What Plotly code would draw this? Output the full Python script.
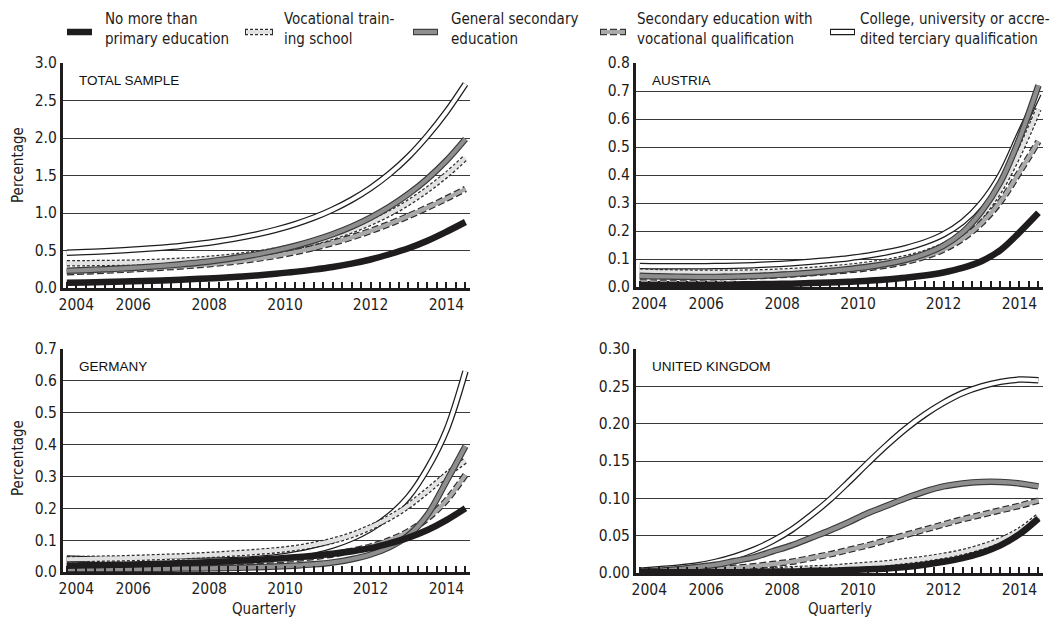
import plotly.graph_objects as go

# ---------------------------------------------------------------------------
# Data: share (%) by education level, half-yearly points 2004-2014
# ---------------------------------------------------------------------------
years = [2004.0, 2004.5, 2005.0, 2005.5, 2006.0, 2006.5, 2007.0, 2007.5,
         2008.0, 2008.5, 2009.0, 2009.5, 2010.0, 2010.5, 2011.0, 2011.5,
         2012.0, 2012.5, 2013.0, 2013.5, 2014.0, 2014.5]

legend_labels = [
    "No more than<br>primary education",
    "Vocational train-<br>ing school",
    "General secondary<br>education",
    "Secondary education with<br>vocational qualification",
    "College, university or accre-<br>dited terciary qualification",
]

panel_titles = ["TOTAL SAMPLE", "AUSTRIA", "GERMANY", "UNITED KINGDOM"]

# Total sample
total_primary = [.070, .075, .080, .086, .093, .101, .111, .122, .135, .150, .168,
                 .190, .215, .245, .280, .325, .380, .450, .530, .630, .750, .880]
total_voc     = [.330, .331, .333, .336, .342, .351, .363, .379, .400, .427, .459,
                 .500, .550, .610, .682, .768, .871, .993, 1.139, 1.312, 1.509, 1.737]
total_general = [.230, .239, .250, .262, .277, .295, .316, .341, .371, .407, .449,
                 .500, .560, .632, .717, .818, .939, 1.083, 1.254, 1.457, 1.699, 1.987]
total_secvoc  = [.210, .220, .231, .243, .256, .271, .288, .307, .329, .356, .389,
                 .429, .477, .534, .600, .675, .760, .855, .960, 1.073, 1.193, 1.320]
total_college = [.470, .479, .490, .503, .519, .538, .561, .589, .624, .665, .715,
                 .776, .849, .937, 1.045, 1.175, 1.332, 1.522, 1.752, 2.030, 2.350, 2.720]

# Austria
at_primary = [.008, .008, .008, .008, .008, .009, .010, .011, .012, .014, .016,
              .019, .022, .027, .033, .041, .052, .068, .092, .132, .195, .265]
at_voc     = [.055, .053, .052, .051, .051, .051, .052, .054, .057, .061, .066,
              .072, .080, .090, .103, .121, .148, .188, .255, .350, .480, .635]
at_general = [.040, .038, .037, .036, .036, .037, .039, .042, .046, .051, .057,
              .064, .072, .083, .097, .118, .148, .195, .270, .375, .530, .720]
at_secvoc  = [.035, .034, .034, .034, .035, .036, .038, .041, .045, .049, .054,
              .060, .067, .077, .090, .108, .134, .172, .228, .305, .410, .520]
at_college = [.075, .074, .074, .074, .075, .076, .078, .081, .085, .090, .096,
              .103, .112, .124, .139, .159, .188, .232, .300, .400, .545, .690]

# Germany
de_primary = [.020, .021, .022, .023, .024, .026, .028, .030, .032, .035, .038,
              .042, .046, .051, .057, .065, .075, .090, .108, .132, .163, .200]
de_voc     = [.040, .041, .042, .043, .045, .047, .049, .052, .055, .059, .063,
              .068, .075, .085, .098, .116, .140, .170, .208, .255, .305, .350]
de_general = [.010, .010, .010, .010, .010, .010, .011, .011, .012, .013, .015,
              .017, .020, .024, .030, .040, .055, .078, .115, .180, .285, .395]
de_secvoc  = [.020, .020, .020, .021, .022, .023, .024, .026, .028, .031, .034,
              .037, .041, .047, .055, .066, .080, .100, .128, .168, .225, .305]
de_college = [.042, .040, .038, .037, .036, .035, .035, .035, .036, .038, .041,
              .046, .055, .067, .083, .105, .135, .177, .236, .325, .445, .630]

# United Kingdom
uk_primary = [.001, .001, .001, .001, .001, .001, .0015, .002, .002, .003, .003,
              .004, .005, .006, .008, .011, .015, .020, .027, .037, .052, .073]
uk_voc     = [.001, .001, .001, .002, .002, .003, .003, .004, .005, .006, .007,
              .009, .011, .013, .016, .019, .023, .028, .035, .044, .057, .076]
uk_general = [.002, .003, .005, .008, .011, .016, .021, .029, .037, .047, .057,
              .068, .080, .090, .100, .109, .116, .120, .122, .122, .120, .116]
uk_secvoc  = [.001, .002, .003, .004, .005, .007, .009, .012, .015, .020, .025,
              .031, .037, .044, .051, .058, .065, .072, .078, .084, .090, .097]
uk_college = [.003, .005, .007, .010, .015, .022, .031, .043, .058, .077, .098,
              .122, .147, .171, .193, .212, .228, .241, .250, .256, .259, .258]

year_labels = ["2004", "2006", "2008", "2010", "2012", "2014"]

# ---------------------------------------------------------------------------
# Styling
# ---------------------------------------------------------------------------
W, H = 1050, 620
INK = "#1e1c1c"
FONT = "Liberation Sans Narrow, DejaVu Sans Condensed, Arial Narrow, sans-serif"
TITLE_FONT = "Liberation Sans, Arial, sans-serif"
TICK_SIZE = 15.5
TEXT_SIZE = 15

# cased line: outer (case) stroke + inner (fill) stroke
STYLES = {
    "primary": dict(case=INK, fill=INK, dash="solid", cw=6.5, fw=6.5),
    "voc": dict(case="#2e2e2e", fill="#e2e2e2", dash="3px,2px", cw=6.5, fw=4.0),
    "general": dict(case="#3a3a3a", fill="#8e8e8e", dash="solid", cw=6.5, fw=4.2),
    "secvoc": dict(case="#2e2e2e", fill="#a9a9a9", dash="7px,3px", cw=6.5, fw=4.2),
    "college": dict(case=INK, fill="#ffffff", dash="solid", cw=6.5, fw=4.0),
}
LEGEND_ORDER = ["primary", "voc", "general", "secvoc", "college"]
DRAW_ORDER = ["college", "voc", "secvoc", "general", "primary"]

# quarterly tick comb; year labels sit on the quarter nearest their printed spot
X_RANGE = [2003.9, 2014.62]
quarters = [2004 + 0.25 * k for k in range(43)]
label_at = dict(zip([2004.25, 2005.75, 2007.75, 2009.75, 2012.0, 2014.0], year_labels))
quarter_text = [label_at.get(q, "") for q in quarters]


def px_x(p):
    return p / W


def px_y(p):
    return 1 - p / H


panels = [
    dict(title=panel_titles[0], xa="x", ya="y",
         data=dict(primary=total_primary, voc=total_voc, general=total_general,
                   secvoc=total_secvoc, college=total_college),
         ymax=3.0, dtick=0.5, fmt=".1f", xpx=(63, 470), ypx=(63, 288)),
    dict(title=panel_titles[1], xa="x2", ya="y2",
         data=dict(primary=at_primary, voc=at_voc, general=at_general,
                   secvoc=at_secvoc, college=at_college),
         ymax=0.8, dtick=0.1, fmt=".1f", xpx=(636, 1043), ypx=(63, 287)),
    dict(title=panel_titles[2], xa="x3", ya="y3",
         data=dict(primary=de_primary, voc=de_voc, general=de_general,
                   secvoc=de_secvoc, college=de_college),
         ymax=0.7, dtick=0.1, fmt=".1f", xpx=(63, 470), ypx=(349, 572)),
    dict(title=panel_titles[3], xa="x4", ya="y4",
         data=dict(primary=uk_primary, voc=uk_voc, general=uk_general,
                   secvoc=uk_secvoc, college=uk_college),
         ymax=0.30, dtick=0.05, fmt=".2f", xpx=(636, 1043), ypx=(349, 573)),
]

fig = go.Figure()

for pnl in panels:
    for key in DRAW_ORDER:
        st = STYLES[key]
        vals = pnl["data"][key]
        fig.add_trace(go.Scatter(
            x=years, y=vals, xaxis=pnl["xa"], yaxis=pnl["ya"], mode="lines",
            line=dict(color=st["case"], width=st["cw"], dash=st["dash"],
                      shape="spline", smoothing=1.0),
            hoverinfo="skip", showlegend=False))
        if st["fill"] != st["case"] or st["dash"] != "solid":
            fig.add_trace(go.Scatter(
                x=years, y=vals, xaxis=pnl["xa"], yaxis=pnl["ya"], mode="lines",
                line=dict(color=st["fill"], width=st["fw"], shape="spline", smoothing=1.0),
                hoverinfo="skip", showlegend=False))

layout = dict(
    width=W, height=H,
    margin=dict(l=0, r=0, t=0, b=0),
    paper_bgcolor="white", plot_bgcolor="white",
    showlegend=False,
    font=dict(family=FONT, color=INK, size=TEXT_SIZE),
)

annotations = []
shapes = []

for i, pnl in enumerate(panels):
    sfx = "" if i == 0 else str(i + 1)
    x0, x1 = pnl["xpx"]
    y0, y1 = pnl["ypx"]
    layout["xaxis" + sfx] = dict(
        domain=[px_x(x0), px_x(x1)], anchor=pnl["ya"], range=X_RANGE,
        tickmode="array", tickvals=quarters, ticktext=quarter_text,
        ticks="inside", ticklen=6, tickwidth=2.2, tickcolor=INK,
        showline=True, linewidth=3, linecolor=INK, showgrid=False, zeroline=False,
        tickfont=dict(family=FONT, size=TICK_SIZE, color=INK), automargin=False,
        fixedrange=True, layer="above traces",
    )
    layout["yaxis" + sfx] = dict(
        domain=[px_y(y1), px_y(y0)], anchor=pnl["xa"], range=[0, pnl["ymax"]],
        tickmode="linear", tick0=0, dtick=pnl["dtick"], tickformat=pnl["fmt"], ticks="",
        showline=True, linewidth=3, linecolor=INK, showgrid=True, gridcolor="#3a3a3a",
        gridwidth=1, zeroline=False, tickfont=dict(family=FONT, size=TICK_SIZE, color=INK),
        automargin=False, fixedrange=True,
    )
    annotations.append(dict(
        text=pnl["title"], xref="paper", yref="paper", x=px_x(x0 + 14), y=px_y(y0 + 17),
        xanchor="left", yanchor="middle", showarrow=False,
        font=dict(family=TITLE_FONT, size=13.5, color="#111111")))

# axis titles
for yc in (165, 458):
    annotations.append(dict(
        text="Percentage", xref="paper", yref="paper", x=px_x(18), y=px_y(yc),
        textangle=-90, showarrow=False, xanchor="center", yanchor="middle",
        font=dict(family=FONT, size=TEXT_SIZE, color=INK)))
for xc in (264, 840):
    annotations.append(dict(
        text="Quarterly", xref="paper", yref="paper", x=px_x(xc), y=px_y(609),
        showarrow=False, xanchor="center", yanchor="middle",
        font=dict(family=FONT, size=TEXT_SIZE, color=INK)))

# legend row: symbol spans and text starts (pixels)
legend_sym = [(67, 92), (245, 273), (413, 438), (600, 626), (830, 855)]
legend_txt = [103, 282, 449, 635, 858]
LEG_Y = 32
for key, label, (sx0, sx1), tx in zip(LEGEND_ORDER, legend_labels, legend_sym, legend_txt):
    st = STYLES[key]
    shapes.append(dict(type="line", xref="paper", yref="paper",
                       x0=px_x(sx0), x1=px_x(sx1), y0=px_y(LEG_Y), y1=px_y(LEG_Y),
                       line=dict(color=st["case"], width=st["cw"], dash=st["dash"])))
    if st["fill"] != st["case"] or st["dash"] != "solid":
        shapes.append(dict(type="line", xref="paper", yref="paper",
                           x0=px_x(sx0 + 1), x1=px_x(sx1 - 1), y0=px_y(LEG_Y), y1=px_y(LEG_Y),
                           line=dict(color=st["fill"], width=st["fw"])))
    annotations.append(dict(
        text=label, xref="paper", yref="paper", x=px_x(tx), y=px_y(29),
        xanchor="left", yanchor="middle", align="left", showarrow=False,
        font=dict(family=FONT, size=TEXT_SIZE, color=INK)))

layout["annotations"] = annotations
layout["shapes"] = shapes
fig.update_layout(**layout)

fig.write_html("out.html")
